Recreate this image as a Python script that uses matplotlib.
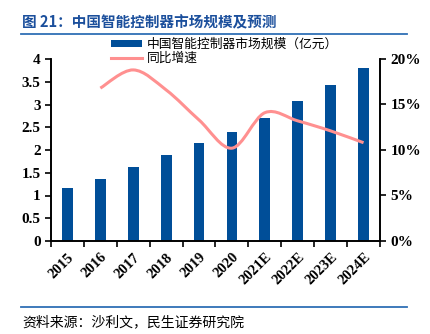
import matplotlib
matplotlib.use("Agg")
import matplotlib.pyplot as plt
import numpy as np
from matplotlib.path import Path
from matplotlib.patches import PathPatch
from matplotlib.ticker import FuncFormatter, MultipleLocator

plt.rcParams["font.family"] = ["Noto Sans CJK SC", "DejaVu Sans"]

years = ["2015", "2016", "2017", "2018", "2019", "2020",
         "2021E", "2022E", "2023E", "2024E"]
market_size = [1.17, 1.36, 1.63, 1.89, 2.16, 2.40, 2.71, 3.08, 3.43, 3.80]
growth = [None, 16.8, 18.8, 16.6, 13.3, 10.2, 14.1, 13.2, 12.1, 10.8]

bar_color = "#004e98"
line_color = "#ff9090"
title_color = "#1b4f9c"
rule_color = "#2f6fb5"
serif = ["Liberation Serif", "DejaVu Serif"]


def smooth_path(xs, ys, tension=1 / 6):
    # Excel-style smoothed line: cubic Bezier through each point
    pts = np.column_stack([xs, ys]).astype(float)
    verts = [pts[0]]
    codes = [Path.MOVETO]
    n = len(pts)
    for i in range(n - 1):
        p0 = pts[i - 1] if i > 0 else pts[i]
        p1, p2 = pts[i], pts[i + 1]
        p3 = pts[i + 2] if i + 2 < n else pts[i + 1]
        c1 = p1 + (p2 - p0) * tension
        c2 = p2 - (p3 - p1) * tension
        verts += [c1, c2, p2]
        codes += [Path.CURVE4] * 3
    return Path(verts, codes)


fig = plt.figure(figsize=(4.31, 3.34), dpi=100)
ax = fig.add_axes([51 / 431, 1 - 241 / 334, 329 / 431, 182 / 334])
ax2 = ax.twinx()

x = np.arange(len(years))
bars = ax.bar(x, market_size, width=0.33, color=bar_color, zorder=2,
              label="中国智能控制器市场规模（亿元）")

gx = [i for i, g in enumerate(growth) if g is not None]
gy = [g for g in growth if g is not None]
patch = PathPatch(smooth_path(gx, gy), facecolor="none", edgecolor=line_color,
                  lw=2.2, zorder=3, transform=ax2.transData)
ax2.add_patch(patch)
line_handle, = ax2.plot([], [], color=line_color, lw=2.2, label="同比增速")

ax.set_xlim(-0.5, len(years) - 0.5)
ax.set_ylim(0, 4)
ax2.set_ylim(0, 20)
ax.yaxis.set_major_locator(MultipleLocator(0.5))
ax2.yaxis.set_major_locator(MultipleLocator(5))
ax.yaxis.set_major_formatter(FuncFormatter(lambda v, p: f"{v:g}"))
ax2.yaxis.set_major_formatter(FuncFormatter(lambda v, p: f"{v:.0f}%"))

ax.set_xticks(x)
ax.set_xticklabels(years, rotation=45, ha="right", rotation_mode="anchor",
                   fontfamily=serif, fontweight="bold", fontsize=10.5)
ax.set_xticks(np.arange(-0.5, len(years)), minor=True)
ax.tick_params(axis="x", which="major", length=0, pad=7)
ax.tick_params(axis="x", which="minor", length=4, width=1.2, direction="out")
ax.tick_params(axis="y", length=4, width=1.2, direction="out")
ax2.tick_params(axis="y", length=4, width=1.2, direction="out")
for lab in ax.get_yticklabels() + ax2.get_yticklabels():
    lab.set_fontfamily(serif)
    lab.set_fontweight("bold")
    lab.set_fontsize(11)

for a in (ax, ax2):
    a.spines["top"].set_visible(False)
    for s in ("left", "right", "bottom"):
        a.spines[s].set_linewidth(1.2)

fig.legend(handles=[bars, line_handle], loc="upper left",
           bbox_to_anchor=(111 / 431, 1 - 38 / 334), frameon=False,
           fontsize=9.2, handlelength=2.4, handleheight=0.5,
           handletextpad=0.4, labelspacing=0.1, borderaxespad=0,
           borderpad=0)

fig.text(22 / 431, 1 - 22 / 334, "图 21：中国智能控制器市场规模及预测",
         color=title_color, fontsize=10.5, fontweight="bold", va="center")
fig.add_artist(plt.Line2D([21 / 431, 407 / 431], [1 - 34 / 334, 1 - 34 / 334],
                          color=rule_color, lw=1.3))
fig.add_artist(plt.Line2D([21 / 431, 407 / 431], [1 - 307 / 334, 1 - 307 / 334],
                          color=rule_color, lw=1.3))
fig.text(22 / 431, 1 - 322 / 334, "资料来源：沙利文，民生证券研究院",
         fontsize=10, va="center")

fig.savefig("out.png", dpi=100)
